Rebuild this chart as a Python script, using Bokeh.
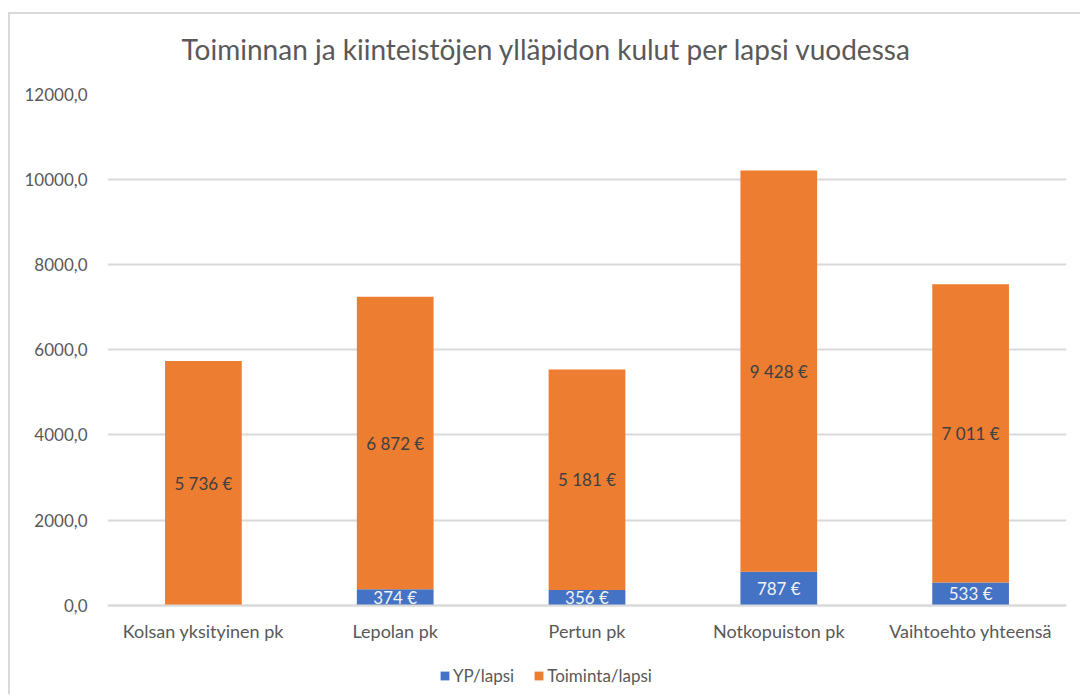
from bokeh.plotting import figure
from bokeh.models import (FactorRange, Range1d, FixedTicker, ColumnDataSource,
                          Legend, LegendItem)
from bokeh.core.properties import value
from bokeh.embed import file_html
from bokeh.resources import INLINE

# ---- data ----
categories = ["Kolsan yksityinen pk", "Lepolan pk", "Pertun pk",
              "Notkopuiston pk", "Vaihtoehto yhteensä"]
yp_lapsi = [0, 374, 356, 787, 533]
toiminta_lapsi = [5736, 6872, 5181, 9428, 7011]
series_names = ["YP/lapsi", "Toiminta/lapsi"]
y_ticks = [0, 2000, 4000, 6000, 8000, 10000, 12000]
title_text = "Toiminnan ja kiinteistöjen ylläpidon kulut per lapsi vuodessa"

BLUE = "#4472C4"
ORANGE = "#ED7D31"
GRID = "#d9d9d9"
TXT = "#595959"
FONT = "Lato"

# ---- layout geometry (pixels) ----
W, H = 1080, 694
FRAME_LEFT, FRAME_RIGHT = 107, 1066
FRAME_TOP = 94
ZERO_PX = 604.7          # pixel row of the value 0
y_max = y_ticks[-1]
px_per_unit = (ZERO_PX - FRAME_TOP) / y_max
y_min = -(H - ZERO_PX) / px_per_unit   # extend frame below 0 to hold labels + legend


def eur(v):
    if not v:
        return ""
    return f"{v:,}".replace(",", "\u00a0") + "\u00a0€"


src = ColumnDataSource(dict(
    cat=categories,
    yp=yp_lapsi,
    toim=toiminta_lapsi,
    yp_mid=[a / 2 for a in yp_lapsi],
    toim_mid=[a + b / 2 for a, b in zip(yp_lapsi, toiminta_lapsi)],
    yp_txt=[eur(a) for a in yp_lapsi],
    toim_txt=[eur(b) for b in toiminta_lapsi],
))

p = figure(x_range=FactorRange(*categories), y_range=Range1d(y_min, y_max),
           width=W, height=H, output_backend="svg", toolbar_location=None,
           min_border_left=FRAME_LEFT, min_border_right=W - FRAME_RIGHT,
           min_border_top=FRAME_TOP, min_border_bottom=0,
           outline_line_color=None,
           border_fill_color=None, background_fill_color="white")
p.styles = {
    "background": "linear-gradient(#d9d9d9,#d9d9d9) 8px 12px / 2px 100% no-repeat, "
                  "linear-gradient(#d9d9d9,#d9d9d9) 8px 12px / 100% 2px no-repeat, white",
}

# title
p.title.text = title_text
p.title.align = "left"
p.title.offset = 74
p.title.text_font = FONT
p.title.text_font_size = "28px"
p.title.text_font_style = "normal"
p.title.text_color = TXT
p.title.standoff = 57

rs = p.vbar_stack(["yp", "toim"], x="cat", width=0.4, color=[BLUE, ORANGE],
                  line_color=None, source=src)

p.text(x="cat", y="yp_mid", text="yp_txt", source=src, text_align="center",
       text_baseline="middle", text_font=value(FONT), text_font_size="17px",
       text_color="#f2f2f2")
p.text(x="cat", y="toim_mid", text="toim_txt", source=src, text_align="center",
       text_baseline="middle", text_font=value(FONT), text_font_size="17px",
       text_color="#404040")

# axes
p.yaxis.ticker = FixedTicker(ticks=y_ticks)
p.yaxis.major_label_overrides = {t: f"{t},0" for t in y_ticks}
p.yaxis.axis_line_color = None
p.yaxis.major_tick_line_color = None
p.yaxis.minor_tick_line_color = None
p.yaxis.major_label_standoff = 14
p.yaxis.major_label_text_font = FONT
p.yaxis.major_label_text_font_size = "17px"
p.yaxis.major_label_text_color = TXT

p.xaxis.fixed_location = 0
p.xaxis.axis_line_color = GRID
p.xaxis.axis_line_width = 2
p.xaxis.major_tick_line_color = None
p.xaxis.minor_tick_line_color = None
p.xaxis.major_label_standoff = 9
p.xaxis.major_label_text_font = FONT
p.xaxis.major_label_text_font_size = "18px"
p.xaxis.major_label_text_color = TXT

p.xgrid.visible = False
p.ygrid.grid_line_color = GRID
p.ygrid.grid_line_width = 2

legend = Legend(items=[LegendItem(label=series_names[0], renderers=[rs[0]]),
                       LegendItem(label=series_names[1], renderers=[rs[1]])],
                orientation="horizontal", location=(332, 8),
                border_line_color=None, background_fill_alpha=0,
                label_text_font=FONT, label_text_font_size="17px",
                label_text_color=TXT, glyph_width=11, glyph_height=11,
                label_standoff=3, spacing=19, padding=0, margin=0)
p.add_layout(legend)

open("out.html", "w").write(file_html(p, INLINE))
